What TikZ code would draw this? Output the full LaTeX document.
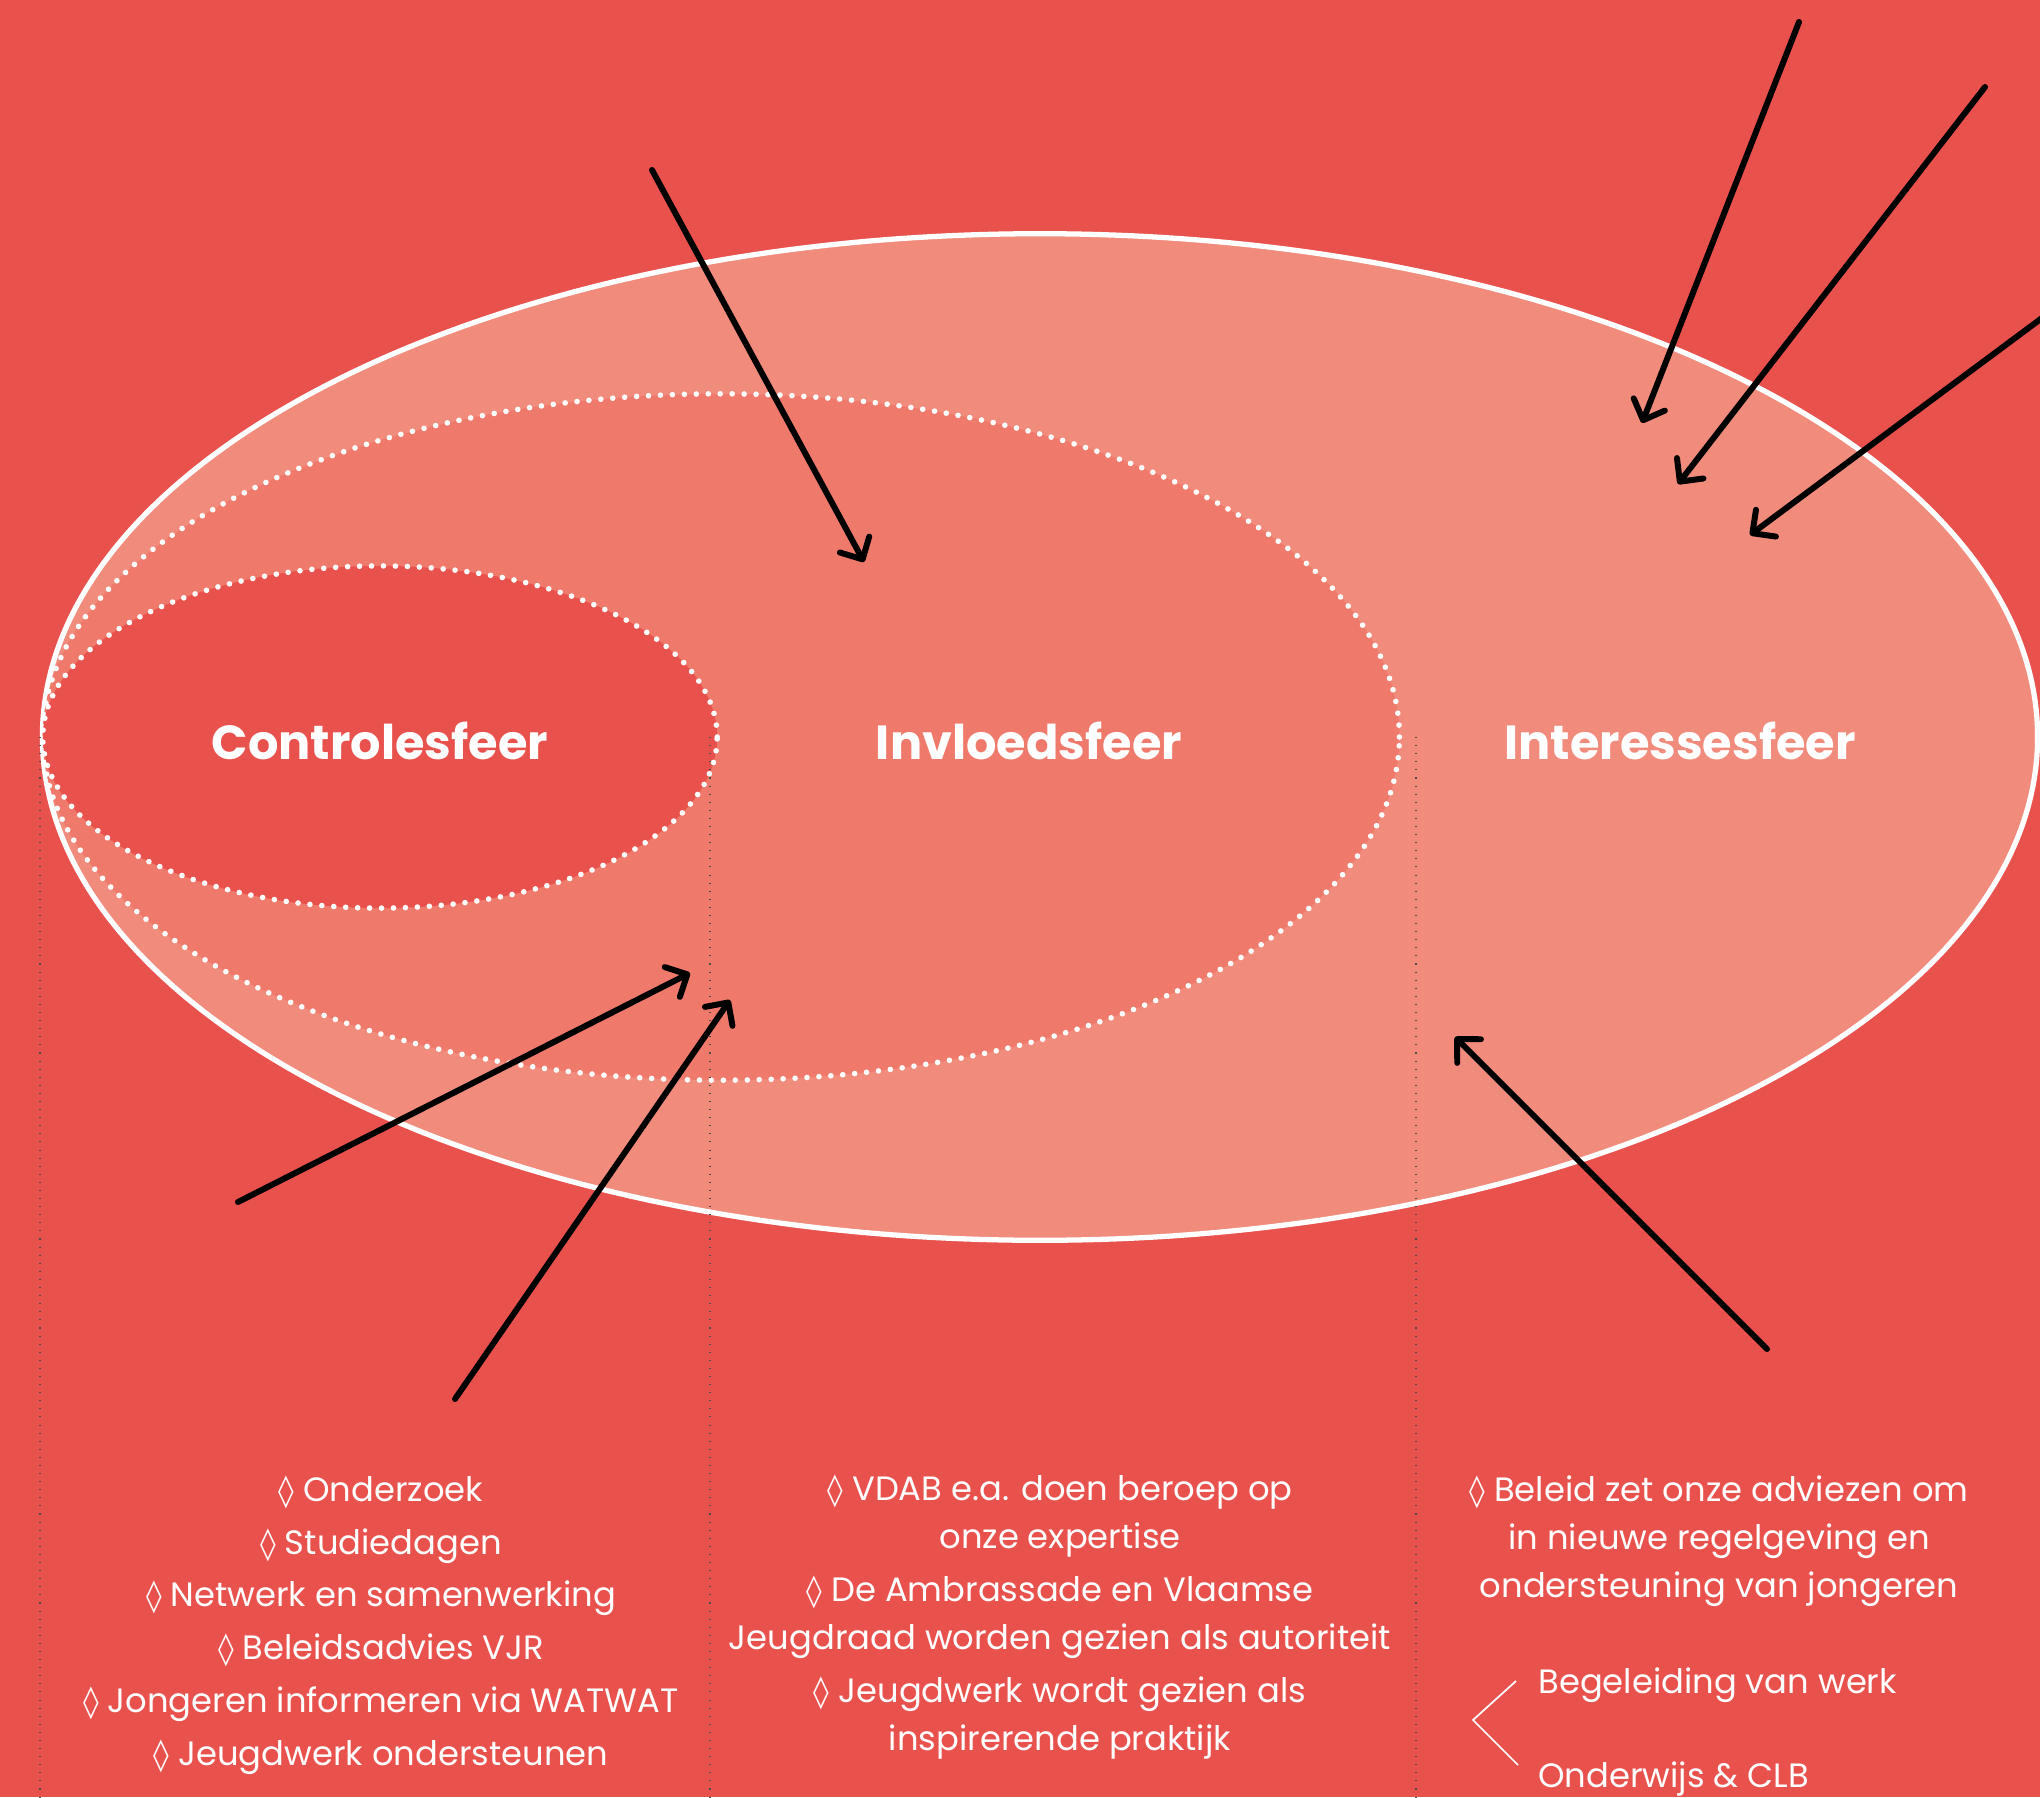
\documentclass[tikz,border=0pt]{standalone}
\usepackage{fontspec}
\setmainfont{Poppins}
\newfontfamily\symfont{DejaVu Sans}
\usetikzlibrary{arrows.meta}

\definecolor{achtergrond}{HTML}{E9514D}
\definecolor{interesse}{HTML}{F18C7D}
\definecolor{invloed}{HTML}{EF7A6C}
\newcommand{\ruit}{{\symfont\small ◊} }

\begin{document}
\begin{tikzpicture}[x=0.01cm, y=-0.01cm,
		sfeer/.style={white, font=\bfseries\fontsize{13.6}{16}\selectfont},
		lijst/.style={white, align=center, font=\fontsize{9.6}{13.7}\selectfont},
		pijl/.style={black, line width=1.7pt, line cap=round, -{Straight Barb[length=4.8pt, width=9.5pt, round]}},
		stippel/.style={white, line width=1.6pt, line cap=round, dash pattern=on 0pt off 3.4pt},
		kolom/.style={black!70, line width=0.3pt, dotted}]
		\useasboundingbox (0,0) rectangle (2040,1797);
		\fill[achtergrond] (0,0) rectangle (2040,1797);

		% de drie sferen
		\draw[white, fill=interesse, line width=1.5pt] (1040,737) ellipse [x radius=9.97cm, y radius=5.03cm];
		\draw[stippel, fill=invloed] (721,737) ellipse [x radius=6.78cm, y radius=3.43cm];
		\draw[stippel, fill=achtergrond] (380,737) ellipse [x radius=3.37cm, y radius=1.71cm];

		\draw[kolom] (40,737) -- (40,1797);
		\draw[kolom] (710,737) -- (710,1797);
		\draw[kolom] (1416,737) -- (1416,1797);

		\node[sfeer] (controlesfeer) at (380,741) {Controlesfeer};
		\node[sfeer] (invloedsfeer) at (1029,741) {Invloedsfeer};
		\node[sfeer] (interessesfeer) at (1680,741) {Interessesfeer};

		% pijlen
		\coordinate (van1) at (652,170);   \coordinate (naar1) at (864,562);
		\coordinate (van2) at (1799,22);   \coordinate (naar2) at (1642,423);
		\coordinate (van3) at (1985,87);   \coordinate (naar3) at (1678,484);
		\coordinate (van4) at (2046,315);  \coordinate (naar4) at (1750,535);
		\coordinate (van5) at (238,1202);  \coordinate (naar5) at (690,973);
		\coordinate (van6) at (455,1399);  \coordinate (naar6) at (730,1000);
		\coordinate (van7) at (1767,1349); \coordinate (naar7) at (1455,1037);
		\foreach \i in {1,...,7}
			\draw[pijl] (van\i) -- (naar\i);

		% lijsten
		\node[lijst] (controle) at (381,1625) {\ruit Onderzoek\\[1.3pt]
			\ruit Studiedagen\\[1.3pt]
			\ruit Netwerk en samenwerking\\[1.3pt]
			\ruit Beleidsadvies VJR\\[1.3pt]
			\ruit Jongeren informeren via WATWAT\\[1.3pt]
			\ruit Jeugdwerk ondersteunen};
		\node[lijst] (invloed) at (1060,1617) {\ruit VDAB e.a. doen beroep op\\
			onze expertise\\[1.3pt]
			\ruit De Ambrassade en Vlaamse\\
			Jeugdraad worden gezien als autoriteit\\[1.3pt]
			\ruit Jeugdwerk wordt gezien als\\
			inspirerende praktijk};
		\node[lijst] (interesse) at (1719,1541) {\ruit Beleid zet onze adviezen om\\
			in nieuwe regelgeving en\\
			ondersteuning van jongeren};
		\node[lijst, anchor=west] (werk) at (1526,1685) {Begeleiding van werk};
		\node[lijst, anchor=west] (onderwijs) at (1526,1779) {Onderwijs \& CLB};
		\draw[white, line width=0.5pt] (1516,1681) -- (1473,1720) -- (1518,1765);
	\end{tikzpicture}
\end{document}
